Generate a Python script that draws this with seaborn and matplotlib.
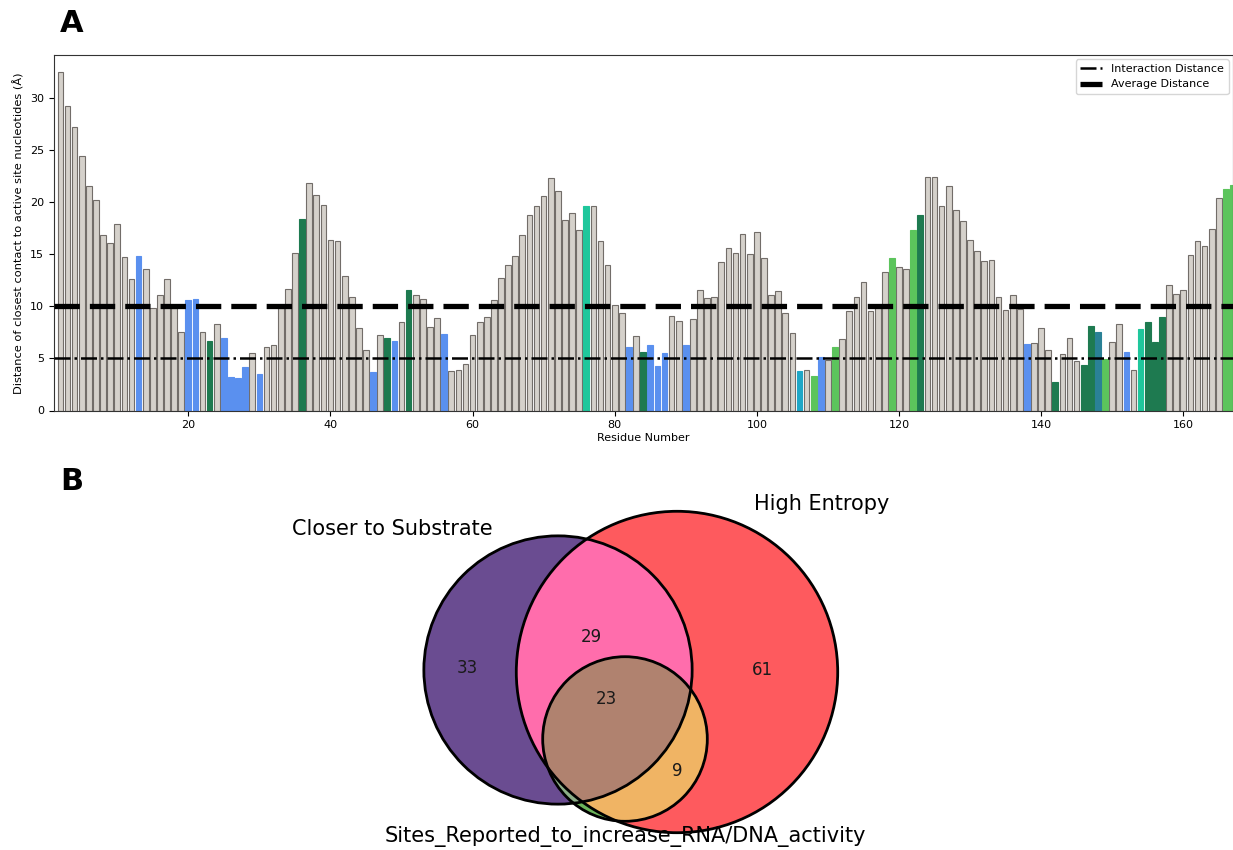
import numpy as np
import pandas as pd
import matplotlib
matplotlib.use("Agg")
import matplotlib.pyplot as plt
import seaborn as sns
from matplotlib.patches import Circle, Polygon
from matplotlib.lines import Line2D

# ---------------- data: closest-contact distance per residue ----------------
residues = list(range(2, 168))
distance = [
    32.5, 29.2, 27.2, 24.4, 21.5, 20.2, 16.8, 16.1, 17.9, 14.7,   # 2-11
    12.6, 14.8, 13.6, 9.8, 11.1, 12.6, 9.8, 7.5, 10.6, 10.7,      # 12-21
    7.5, 6.7, 8.3, 7.0, 3.2, 3.1, 4.2, 5.5, 3.5, 6.1,             # 22-31
    6.3, 9.8, 11.7, 15.1, 18.4, 21.8, 20.7, 19.7, 16.4, 16.3,     # 32-41
    12.9, 10.9, 7.9, 5.8, 3.7, 7.2, 7.0, 6.7, 8.5, 11.6,          # 42-51
    11.1, 10.7, 8.0, 8.9, 7.3, 3.8, 3.9, 4.5, 7.2, 8.5,           # 52-61
    9.0, 10.6, 12.7, 14.0, 14.8, 16.8, 18.8, 19.6, 20.6, 22.3,    # 62-71
    21.1, 18.3, 18.9, 17.3, 19.6, 19.6, 16.3, 14.0, 10.1, 9.4,    # 72-81
    6.1, 7.1, 5.6, 6.3, 4.3, 5.5, 9.1, 8.6, 6.3, 8.8,             # 82-91
    11.6, 10.8, 10.9, 14.2, 15.6, 15.1, 16.9, 15.0, 17.1, 14.6,   # 92-101
    11.1, 11.5, 9.4, 7.4, 3.8, 3.9, 3.3, 5.1, 4.8, 6.1,           # 102-111
    6.9, 9.5, 10.9, 12.3, 9.5, 9.9, 13.3, 14.6, 13.8, 13.6,       # 112-121
    17.3, 18.8, 22.4, 22.4, 19.6, 21.5, 19.2, 18.2, 16.4, 15.3,   # 122-131
    14.3, 14.4, 10.9, 9.6, 11.1, 9.7, 6.4, 6.5, 7.9, 5.8,         # 132-141
    2.7, 5.4, 7.0, 4.75, 4.4, 8.1, 7.5, 4.9, 6.6, 8.3,            # 142-151
    5.6, 3.9, 7.8, 8.5, 6.6, 9.0, 12.0, 11.2, 11.6, 14.9,         # 152-161
    16.3, 15.8, 17.4, 20.4, 21.2, 21.6,                           # 162-167
]
# residue class codes (N = unclassified)
group_codes = {
    "B": [13, 20, 21, 25, 26, 27, 28, 30, 46, 49, 56, 82, 85, 86, 87, 90,
          109, 138, 152],
    "D": [23, 36, 48, 51, 84, 123, 142, 146, 147, 155, 156, 157],
    "T": [76, 154],
    "L": [108, 111, 119, 122, 149, 166, 167],
    "C": [106],
    "S": [148],
}
groups = ["N"] * len(residues)
for code, members in group_codes.items():
    for r in members:
        groups[residues.index(r)] = code

interaction_distance = 5.0
average_distance = 10.0

# ---------------- data: Venn region counts ----------------
set_names = ["Closer to Substrate", "High Entropy",
             "Sites_Reported_to_increase_RNA/DNA_activity"]
only_closer = 33
closer_entropy = 29
all_three = 23
only_entropy = 61
entropy_sites = 9
closer_sites = 0
only_sites = 0

# ---------------- styling ----------------
W, H = 1233, 850
grey_fill = "#d5d1cb"
grey_edge = "#726d69"
group_palette = {
    "N": grey_fill,
    "B": "#5a90ef",
    "D": "#1e7a50",
    "T": "#1fc79c",
    "L": "#5cc45c",
    "C": "#1ea6c6",
    "S": "#2a8196",
}

fig = plt.figure(figsize=(W / 100, H / 100), dpi=100)

# ================= panel A: bar chart =================
axA = fig.add_axes([54 / W, 1 - 410.5 / H, (W - 54) / W, (410.5 - 55) / H])
df = pd.DataFrame({"residue": residues, "distance": distance, "group": groups})
sns.barplot(data=df, x="residue", y="distance", hue="group",
            palette=group_palette, native_scale=True, dodge=False,
            width=0.8, errorbar=None, saturation=1, legend=False,
            linewidth=0.8, ax=axA)
grey_rgba = matplotlib.colors.to_rgba(grey_fill)
for p in axA.patches:
    fc = p.get_facecolor()
    if np.allclose(fc, grey_rgba, atol=1e-3):
        p.set_edgecolor(grey_edge)
    else:
        p.set_edgecolor(fc)
    p.set_linewidth(0.8)

axA.axhline(interaction_distance, color="black", lw=1.8, ls="-.", zorder=3)
axA.axhline(average_distance, color="black", lw=3.8,
            ls=(0, (4.8, 1.9)), zorder=3)

axA.set_xlim(1.1, 167.0)
axA.set_ylim(0, 34.1)
axA.set_xticks(range(20, 161, 20))
axA.set_yticks(range(0, 31, 5))
axA.tick_params(labelsize=8)
axA.set_xlabel("Residue Number", fontsize=8, labelpad=2)
axA.set_ylabel("Distance of closest contact to active site nucleotides (Å)",
               fontsize=8.2, labelpad=4)
for s in axA.spines.values():
    s.set_visible(True)
    s.set_color("#333333")

handles = [
    Line2D([], [], color="black", lw=1.8, ls="-."),
    Line2D([], [], color="black", lw=3.8, ls=(0, (4.8, 1.9))),
]
axA.legend(handles, ["Interaction Distance", "Average Distance"],
           loc="upper right", fontsize=8, handlelength=2.0,
           borderaxespad=0.4)

fig.text(60 / W, 1 - 24 / H, "A", fontsize=22, fontweight="bold",
         va="center", ha="left")
fig.text(60 / W, 1 - 482 / H, "B", fontsize=22, fontweight="bold",
         va="center", ha="left")

# ================= panel B: three-set Venn =================
axB = fig.add_axes([0, 0, 1, 390 / H])
axB.set_xlim(0, W)
axB.set_ylim(H, H - 390)
axB.axis("off")

size_closer = only_closer + closer_entropy + all_three + closer_sites
size_entropy = only_entropy + closer_entropy + all_three + entropy_sites
size_sites = all_three + entropy_sites + closer_sites + only_sites
scale = 14.55  # radius per sqrt(count)
circles = {
    "closer": ((558, 670), scale * np.sqrt(size_closer)),
    "entropy": ((677, 672), scale * np.sqrt(size_entropy)),
    "sites": ((625, 739), scale * np.sqrt(size_sites)),
}


def intersection(keys, n=1440):
    pts = []
    for k in keys:
        (cx, cy), r = circles[k]
        t = np.linspace(0, 2 * np.pi, n, endpoint=False)
        xy = np.column_stack([cx + r * np.cos(t), cy + r * np.sin(t)])
        ok = np.ones(n, bool)
        for o in keys:
            if o == k:
                continue
            (ox, oy), orad = circles[o]
            ok &= np.hypot(xy[:, 0] - ox, xy[:, 1] - oy) <= orad + 1e-6
        pts.append(xy[ok])
    pts = np.vstack(pts)
    c = pts.mean(axis=0)
    order = np.argsort(np.arctan2(pts[:, 1] - c[1], pts[:, 0] - c[0]))
    return pts[order]


def full(key, color):
    (cx, cy), r = circles[key]
    axB.add_patch(Circle((cx, cy), r, facecolor=color, edgecolor="none"))


def region(keys, color):
    axB.add_patch(Polygon(intersection(keys), closed=True,
                          facecolor=color, edgecolor="none"))


full("closer", "#6a4c91")
full("entropy", "#fe5a5e")
region(["closer", "entropy"], "#ff6dac")
full("sites", "#6cb45a")
region(["closer", "sites"], "#8cae88")
region(["entropy", "sites"], "#f0b464")
region(["closer", "entropy", "sites"], "#b0826f")

for (cxy, r) in circles.values():
    axB.add_patch(Circle(cxy, r, facecolor="none", edgecolor="black", lw=2.0))

count_labels = [
    (467, 668, only_closer),
    (591, 637, closer_entropy),
    (606, 699, all_three),
    (762, 670, only_entropy),
    (677, 771, entropy_sites),
]
for x, y, v in count_labels:
    axB.text(x, y, str(v), fontsize=12, ha="center", va="center",
             color="#1a1a1a")

axB.text(392, 529, set_names[0], fontsize=15, ha="center", va="center")
axB.text(822, 504, set_names[1], fontsize=15, ha="center", va="center")
axB.text(625, 836, set_names[2], fontsize=15, ha="center", va="center")

fig.savefig("out.png", dpi=100)
